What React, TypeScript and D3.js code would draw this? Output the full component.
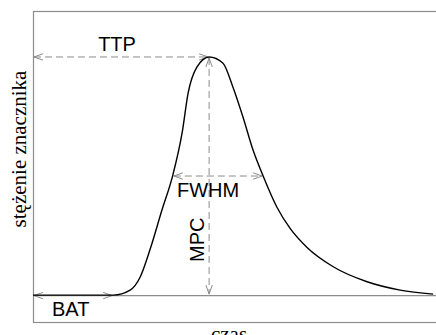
import * as d3 from "d3";
import React from "react";

// concentration-time curve (time in arbitrary units, concentration normalised to peak)
const times = [0, 10, 19.9, 24.1, 26.6, 29.0, 32.0, 34.7, 37.0, 38.5, 40.7, 43.7, 47.1, 49.6, 52.1, 54.6, 57.1, 60.5, 63.8, 68.0, 74.4, 82.9, 91.1, 99.3];
const concentration = [0, 0, 0, 0.021, 0.076, 0.189, 0.357, 0.504, 0.681, 0.849, 0.958, 1.0, 0.975, 0.874, 0.748, 0.609, 0.5, 0.37, 0.28, 0.2, 0.12, 0.056, 0.021, 0.004];

// annotation values
const bat = 19.9;
const peakTime = 43.7;
const peakValue = 1.0;
const halfLeft = 34.7;
const halfRight = 57.1;
const halfValue = 0.5;

const xLabel = "czas";
const yLabel = "stężenie znacznika";

const width = 436;
const height = 335;
const gray = "#8c8c8c";

export default function App() {
  const x = d3.scaleLinear().domain([0, 100]).range([33, 436]);
  const y = d3.scaleLinear().domain([-0.113, 1.193]).range([322, 11]);

  const pts: [number, number][] = times.map((t, i) => [t, concentration[i]]);
  const line = d3
    .line<[number, number]>()
    .x((d) => x(d[0]))
    .y((d) => y(d[1]))
    .curve(d3.curveMonotoneX);

  const [x0, x1] = x.range();
  const y0 = y(0);

  return (
    <svg
      width={width}
      height={height}
      style={{ position: "absolute", left: 0, top: 0, background: "#fff" }}
    >
      <defs>
        <marker
          id="arr"
          markerUnits="userSpaceOnUse"
          markerWidth={12}
          markerHeight={10}
          refX={9}
          refY={4}
          orient="auto-start-reverse"
        >
          <path d="M0,0.8 L9,4 L0,7.2" fill="none" stroke={gray} strokeWidth={1} />
        </marker>
      </defs>

      {/* frame */}
      <rect x={33.5} y={11.5} width={420} height={311} fill="none" stroke={gray} strokeWidth={1.2} />
      {/* baseline */}
      <line x1={x0} x2={x1 + 10} y1={y0 + 0.5} y2={y0 + 0.5} stroke={gray} strokeWidth={1.2} />

      {/* TTP */}
      <line
        x1={x(0) + 1}
        x2={x(peakTime) - 1}
        y1={y(peakValue)}
        y2={y(peakValue)}
        stroke={gray}
        strokeDasharray="7,4"
        markerStart="url(#arr)"
        markerEnd="url(#arr)"
      />
      {/* MPC */}
      <line
        x1={x(peakTime)}
        x2={x(peakTime)}
        y1={y(peakValue) + 1}
        y2={y0 - 1}
        stroke={gray}
        strokeDasharray="7,4"
        markerStart="url(#arr)"
        markerEnd="url(#arr)"
      />
      {/* FWHM */}
      <line
        x1={x(halfLeft) + 1}
        x2={x(halfRight) - 1}
        y1={y(halfValue)}
        y2={y(halfValue)}
        stroke={gray}
        strokeDasharray="7,4"
        markerStart="url(#arr)"
        markerEnd="url(#arr)"
      />
      {/* BAT */}
      <line
        x1={x(0) + 1}
        x2={x(bat) - 1}
        y1={y0 + 0.5}
        y2={y0 + 0.5}
        stroke="none"
        markerStart="url(#arr)"
        markerEnd="url(#arr)"
      />

      <path d={line(pts) ?? ""} fill="none" stroke="#000" strokeWidth={1.4} />

      <g fontFamily="'Liberation Sans', Arial, sans-serif" fontSize={20} fill="#000">
        <text x={(x(0) + x(peakTime)) / 2 - 4} y={51} textAnchor="middle">TTP</text>
        <text x={52} y={316}>BAT</text>
        <text x={177} y={197}>FWHM</text>
        <text transform="translate(204,262) rotate(-90)">MPC</text>
      </g>

      <g fontFamily="'Liberation Serif', 'Times New Roman', serif" fontSize={21} fill="#000">
        <text transform="translate(26,149) rotate(-90)" textAnchor="middle">{yLabel}</text>
        <text x={229} y={341} textAnchor="middle">{xLabel}</text>
      </g>
    </svg>
  );
}
